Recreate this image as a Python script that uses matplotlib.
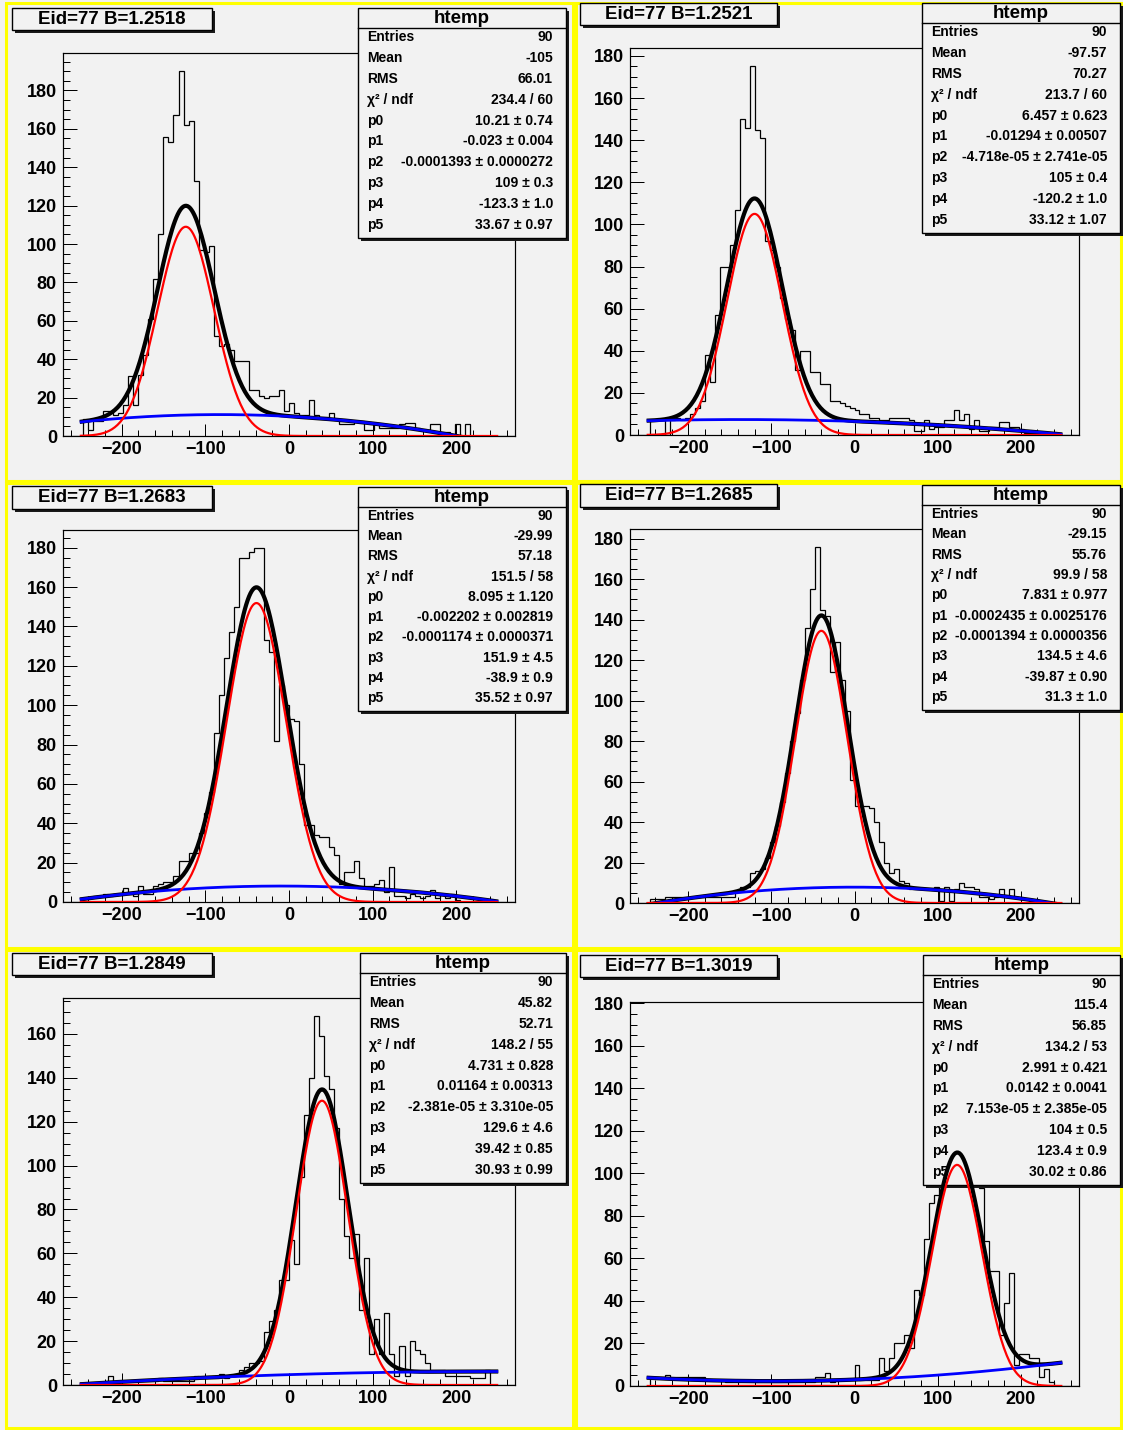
import numpy as np
import matplotlib
matplotlib.use("Agg")
import matplotlib.pyplot as plt
from matplotlib.patches import Rectangle
from matplotlib.ticker import MultipleLocator

plt.rcParams["font.family"] = ["Liberation Sans", "DejaVu Sans"]
plt.rcParams["font.weight"] = "bold"

W, H = 1123, 1430
BG = "#f2f2f2"

# histogram binning: 90 bins over [-270, 270]
x_lo, x_hi, n_bins = -270.0, 270.0, 90
fit_lo, fit_hi = -250.0, 250.0

# bin contents, one list per run
counts_12518 = [0, 0, 0, 0, 9, 3, 8, 8, 13, 13,
                11, 12, 16, 31, 16, 32, 42, 61, 82, 105,
                156, 153, 167, 190, 162, 164, 133, 97, 96, 99,
                52, 47, 48, 45, 39, 39, 39, 24, 24, 21,
                20, 21, 21, 24, 13, 17, 12, 11, 11, 19,
                11, 10, 10, 12, 9, 6, 6, 6, 8, 8,
                3, 3, 6, 4, 4, 4, 4, 6, 7, 7,
                4, 3, 3, 6, 6, 2, 2, 0, 6, 0,
                6, 0, 0, 0, 0, 0, 0, 0, 0, 0]
counts_12521 = [0, 0, 0, 0, 7, 7, 7, 0, 7, 8,
                7, 8, 10, 13, 16, 38, 25, 57, 80, 80,
                90, 107, 150, 146, 175, 145, 141, 92, 88, 80,
                65, 55, 50, 31, 40, 40, 30, 30, 24, 24,
                16, 16, 15, 14, 13, 12, 10, 10, 8, 8,
                7, 7, 8, 8, 8, 8, 7, 2, 2, 7,
                3, 4, 4, 7, 7, 12, 7, 10, 3, 7,
                2, 2, 4, 4, 6, 6, 4, 4, 3, 1,
                1, 1, 0, 0, 0, 0, 0, 0, 0, 0]
counts_12683 = [0, 0, 0, 0, 2, 2, 3, 3, 4, 3,
                4, 4, 7, 4, 3, 8, 4, 4, 8, 9,
                10, 10, 13, 21, 21, 25, 25, 35, 45, 56,
                86, 105, 124, 137, 150, 175, 175, 178, 180, 180,
                133, 127, 82, 110, 100, 93, 92, 70, 39, 39,
                34, 33, 33, 28, 24, 9, 15, 15, 21, 12,
                8, 8, 9, 11, 5, 18, 3, 3, 2, 4,
                3, 2, 3, 6, 2, 4, 2, 4, 1, 0,
                0, 0, 0, 0, 0, 0, 0, 0, 0, 0]
counts_12685 = [0, 0, 0, 0, 2, 2, 2, 3, 3, 3,
                3, 3, 3, 3, 3, 3, 3, 3, 3, 3,
                3, 6, 8, 8, 15, 16, 17, 22, 30, 38,
                50, 64, 80, 94, 110, 136, 155, 176, 145, 142,
                114, 129, 110, 95, 61, 48, 48, 48, 47, 40,
                30, 20, 15, 17, 11, 10, 7, 7, 7, 7,
                7, 8, 1, 8, 1, 7, 10, 8, 8, 7,
                3, 3, 2, 3, 7, 4, 7, 3, 2, 2,
                1, 0, 0, 0, 0, 0, 0, 0, 0, 0]
counts_12849 = [0, 0, 0, 0, 1, 1, 1, 1, 1, 4,
                1, 2, 2, 2, 2, 2, 2, 2, 2, 3,
                2, 2, 2, 2, 2, 2, 4, 3, 3, 3,
                3, 5, 3, 4, 4, 7, 8, 10, 10, 11,
                24, 29, 34, 48, 48, 66, 55, 95, 123, 140,
                168, 159, 141, 135, 117, 85, 68, 58, 69, 34,
                58, 14, 30, 14, 33, 14, 4, 18, 4, 20,
                16, 14, 10, 7, 7, 7, 4, 4, 4, 4,
                4, 3, 3, 3, 7, 0, 0, 0, 0, 0]
counts_13019 = [0, 0, 0, 0, 4, 4, 4, 5, 4, 4,
                4, 4, 4, 4, 4, 3, 3, 3, 3, 2,
                2, 2, 2, 2, 2, 2, 2, 2, 2, 2,
                2, 2, 2, 2, 2, 2, 2, 4, 4, 6,
                2, 3, 3, 3, 3, 10, 3, 3, 3, 3,
                13, 7, 13, 20, 20, 24, 18, 45, 43, 69,
                86, 90, 97, 105, 172, 115, 110, 100, 100, 96,
                93, 68, 54, 54, 24, 39, 53, 10, 15, 15,
                13, 13, 4, 8, 2, 0, 0, 0, 0, 0]

titles = ["Eid=77 B=1.2518", "Eid=77 B=1.2521", "Eid=77 B=1.2683",
          "Eid=77 B=1.2685", "Eid=77 B=1.2849", "Eid=77 B=1.3019"]
all_counts = [counts_12518, counts_12521, counts_12683,
              counts_12685, counts_12849, counts_13019]

# fit results p0..p5 : pol2 background + gaussian
fit_pars = [
    [10.21, -0.023, -0.0001393, 109.0, -123.3, 33.67],
    [6.457, -0.01294, -4.718e-05, 105.0, -120.2, 33.12],
    [8.095, -0.002202, -0.0001174, 151.9, -38.9, 35.52],
    [7.831, -0.0002435, -0.0001394, 134.5, -39.87, 31.3],
    [4.731, 0.01164, -2.381e-05, 129.6, 39.42, 30.93],
    [2.991, 0.0142, 7.153e-05, 104.0, 123.4, 30.02],
]

# statistics box text
stat_labels = ["Entries", "Mean", "RMS", "χ² / ndf", "p0", "p1", "p2", "p3", "p4", "p5"]
stat_values = [
    ["90", "-105", "66.01", "234.4 / 60", "10.21 ± 0.74", "-0.023 ± 0.004",
     "-0.0001393 ± 0.0000272", "109 ± 0.3", "-123.3 ± 1.0", "33.67 ± 0.97"],
    ["90", "-97.57", "70.27", "213.7 / 60", "6.457 ± 0.623", "-0.01294 ± 0.00507",
     "-4.718e-05 ± 2.741e-05", "105 ± 0.4", "-120.2 ± 1.0", "33.12 ± 1.07"],
    ["90", "-29.99", "57.18", "151.5 / 58", "8.095 ± 1.120", "-0.002202 ± 0.002819",
     "-0.0001174 ± 0.0000371", "151.9 ± 4.5", "-38.9 ± 0.9", "35.52 ± 0.97"],
    ["90", "-29.15", "55.76", "99.9 / 58", "7.831 ± 0.977", "-0.0002435 ± 0.0025176",
     "-0.0001394 ± 0.0000356", "134.5 ± 4.6", "-39.87 ± 0.90", "31.3 ± 1.0"],
    ["90", "45.82", "52.71", "148.2 / 55", "4.731 ± 0.828", "0.01164 ± 0.00313",
     "-2.381e-05 ± 3.310e-05", "129.6 ± 4.6", "39.42 ± 0.85", "30.93 ± 0.99"],
    ["90", "115.4", "56.85", "134.2 / 53", "2.991 ± 0.421", "0.0142 ± 0.0041",
     "7.153e-05 ± 2.385e-05", "104 ± 0.5", "123.4 ± 0.9", "30.02 ± 0.86"],
]

# pixel layout: pads, frames, title and stats boxes (x0, y0, x1, y1)
pads = [(6, 3, 573, 481), (576, 3, 1121, 481),
        (6, 483, 573, 948), (576, 483, 1121, 948),
        (6, 950, 573, 1428), (576, 950, 1121, 1428)]
frames = [(63, 53, 515, 436), (630, 48, 1079, 435),
          (63, 530, 515, 902), (630, 529, 1079, 903),
          (63, 998, 515, 1385), (630, 1002, 1079, 1386)]
title_boxes = [(12, 8, 212, 30), (580, 3, 777, 25),
               (12, 486, 212, 509), (580, 484, 777, 507),
               (12, 953, 212, 975), (580, 955, 777, 977)]
stat_boxes = [(358, 8, 566, 238), (922, 3, 1120, 233),
              (358, 487, 566, 711), (922, 485, 1120, 710),
              (360, 953, 566, 1183), (923, 955, 1120, 1185)]

PX = 72.0 / 100.0  # points per pixel at dpi 100


def fig_rect(box):
    x0, y0, x1, y1 = box
    return [x0 / W, 1 - y1 / H, (x1 - x0) / W, (y1 - y0) / H]


fig = plt.figure(figsize=(W / 100, H / 100), dpi=100, facecolor=BG)

# pixel-coordinate canvas underneath the frames: pads and title boxes
ov = fig.add_axes([0, 0, 1, 1], zorder=0)
ov.set_xlim(0, W)
ov.set_ylim(H, 0)
ov.axis("off")
ov.patch.set_alpha(0)
pix = ov.transData


def shadow_box(target, box, z):
    x0, y0, x1, y1 = box
    target.add_patch(Rectangle((x0 + 3, y0 + 3), x1 - x0, y1 - y0, facecolor="#1a1a1a",
                               edgecolor="none", transform=pix, clip_on=False, zorder=z))
    target.add_patch(Rectangle((x0, y0), x1 - x0, y1 - y0, facecolor=BG, edgecolor="black",
                               lw=1.0, transform=pix, clip_on=False, zorder=z + 0.01))


for i in range(6):
    x0, y0, x1, y1 = pads[i]
    ov.add_patch(Rectangle((x0, y0), x1 - x0, y1 - y0, facecolor="none",
                           edgecolor="#ffff00", lw=2.2, zorder=0))
    tb = title_boxes[i]
    shadow_box(ov, tb, 1)
    ov.text((tb[0] + tb[2]) / 2, (tb[1] + tb[3]) / 2 + 0.5, titles[i], ha="center",
            va="center", fontsize=13.5, fontweight="bold", zorder=3)

edges = np.linspace(x_lo, x_hi, n_bins + 1)
xf = np.linspace(fit_lo, fit_hi, 300)

for i in range(6):
    ax = fig.add_axes(fig_rect(frames[i]), facecolor=BG, zorder=1)
    cnt = np.array(all_counts[i], dtype=float)
    ax.stairs(cnt, edges, color="black", lw=0.9, baseline=0, zorder=2)

    # stats box sits over the histogram but under the fitted curves
    sx0, sy0, sx1, sy1 = stat_boxes[i]
    shadow_box(ax, stat_boxes[i], 2.6)
    ax.plot([sx0, sx1], [sy0 + 20, sy0 + 20], color="black", lw=1.0,
            transform=pix, clip_on=False, zorder=2.7)
    ax.text((sx0 + sx1) / 2, sy0 + 10.5, "htemp", ha="center", va="center",
            fontsize=13.5, fontweight="bold", transform=pix, zorder=2.7)
    row0 = sy0 + 29
    step = (sy1 - 13 - row0) / 9.0
    for r in range(10):
        yy = row0 + r * step
        ax.text(sx0 + 9, yy, stat_labels[r], ha="left", va="center", fontsize=10,
                fontweight="bold", transform=pix, zorder=2.7)
        ax.text(sx1 - 13, yy, stat_values[i][r], ha="right", va="center", fontsize=10,
                fontweight="bold", transform=pix, zorder=2.7)

    p0, p1, p2, p3, p4, p5 = fit_pars[i]
    bkg = p0 + p1 * xf + p2 * xf ** 2
    gaus = p3 * np.exp(-0.5 * ((xf - p4) / p5) ** 2)
    ax.plot(xf, bkg + gaus, color="black", lw=3.0, zorder=3, solid_capstyle="butt")
    ax.plot(xf, bkg, color="#0000ff", lw=2.0, zorder=4, solid_capstyle="butt")
    ax.plot(xf, gaus, color="#ff0000", lw=1.6, zorder=5, solid_capstyle="butt")

    ax.set_xlim(x_lo, x_hi)
    ax.set_ylim(0, 1.05 * cnt.max())
    ax.xaxis.set_major_locator(MultipleLocator(100))
    ax.xaxis.set_minor_locator(MultipleLocator(20))
    ax.yaxis.set_major_locator(MultipleLocator(20))
    ax.yaxis.set_minor_locator(MultipleLocator(5))
    ax.tick_params(axis="x", which="major", direction="in", length=12 * PX,
                   width=1.0 * PX, pad=5 * PX, labelsize=13)
    ax.tick_params(axis="x", which="minor", direction="in", length=6 * PX, width=1.0 * PX)
    ax.tick_params(axis="y", which="major", direction="in", length=14 * PX,
                   width=1.0 * PX, pad=6 * PX, labelsize=13)
    ax.tick_params(axis="y", which="minor", direction="in", length=7 * PX, width=1.0 * PX)
    for lab in ax.get_xticklabels() + ax.get_yticklabels():
        lab.set_fontweight("bold")
    for sp in ax.spines.values():
        sp.set_linewidth(1.2 * PX)
        sp.set_zorder(2.5)

fig.savefig("out.png", dpi=100, facecolor=BG)
